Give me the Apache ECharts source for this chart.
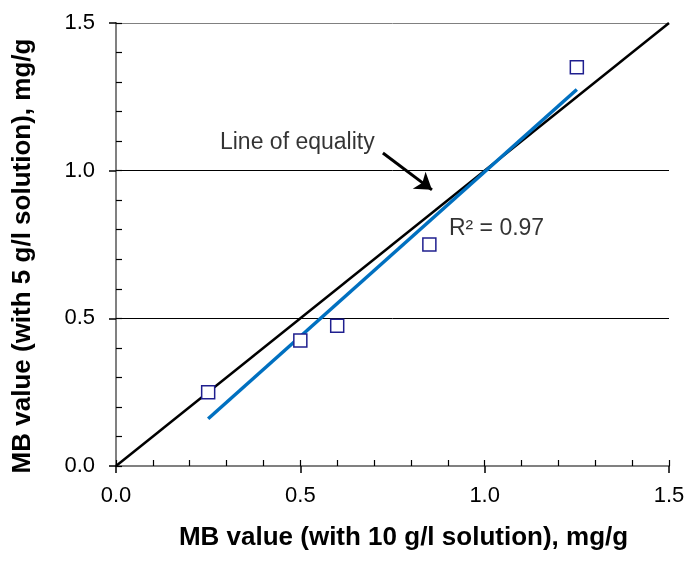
<!DOCTYPE html>
<html>
<head>
<meta charset="utf-8">
<script src="https://cdn.jsdelivr.net/npm/echarts@6/dist/echarts.min.js"></script>
<style>html,body{margin:0;padding:0;background:#fff;}#c{width:690px;height:561px;}</style>
</head>
<body>
<div id="c"></div>
<script>
// Measured points: MB value with 10 g/l (x) vs with 5 g/l (y)
var xValues = [0.25, 0.5, 0.6, 0.85, 1.25];
var yValues = [0.25, 0.425, 0.475, 0.75, 1.35];
// Linear trend line endpoints
var trendX = [0.25, 1.25];
var trendY = [0.16, 1.275];
// Line of equality
var equalityX = [0, 1.5];
var equalityY = [0, 1.5];
// Axis ticks
var tickLabels = ['0.0', '0.5', '1.0', '1.5'];
var axisMin = 0, axisMax = 1.5, majorStep = 0.5, minorStep = 0.1;
// Annotations
var equalityLabel = 'Line of equality';
var equalityLabelPos = [0.282, 1.094];
var arrowFrom = [0.724, 1.06];
var arrowTo = [0.857, 0.935];
var r2Label = 'R\u00B2 = 0.97';
var r2LabelPos = [0.903, 0.803];

var font = '"Liberation Sans", Arial, sans-serif';
function lbl(v) {
  var i = Math.round(v / majorStep);
  return tickLabels[i] !== undefined ? tickLabels[i] : '';
}
var chart = echarts.init(document.getElementById('c'), null, {renderer: 'canvas'});
var base = {type: 'value', min: axisMin, max: axisMax};
var option = {
  animation: false,
  backgroundColor: '#fff',
  grid: {left: 116, right: 21, top: 23, bottom: 95},
  xAxis: [
    Object.assign({}, base, {
      position: 'bottom', interval: majorStep,
      axisLine: {show: true, lineStyle: {color: '#000', width: 1.5}},
      axisTick: {show: true, inside: false, length: 7, lineStyle: {color: '#000', width: 1.5}},
      axisLabel: {formatter: lbl, fontSize: 22, color: '#000', fontFamily: font, margin: 19},
      splitLine: {show: false},
      name: 'MB value (with 10 g/l solution), mg/g',
      nameLocation: 'middle', nameGap: 59,
      nameTextStyle: {fontSize: 26, fontWeight: 'bold', color: '#000', fontFamily: font, padding: [0, 0, 0, 22]}
    }),
    Object.assign({}, base, {
      position: 'bottom', interval: minorStep,
      axisLine: {show: false},
      axisTick: {show: true, inside: true, length: 6, lineStyle: {color: '#000', width: 1.2}},
      axisLabel: {show: false}, splitLine: {show: false}
    }),
    Object.assign({}, base, {
      position: 'top', interval: majorStep,
      axisLine: {show: true, lineStyle: {color: '#808080', width: 2}},
      axisTick: {show: false}, axisLabel: {show: false}, splitLine: {show: false}
    })
  ],
  yAxis: [
    Object.assign({}, base, {
      position: 'left', interval: majorStep,
      axisLine: {show: true, lineStyle: {color: '#000', width: 1.5}},
      axisTick: {show: true, inside: false, length: 7, lineStyle: {color: '#000', width: 1.5}},
      axisLabel: {formatter: lbl, fontSize: 22, color: '#000', fontFamily: font, margin: 21},
      splitLine: {show: true, lineStyle: {color: ['#000', '#000', '#000', '#808080'], width: 1}},
      name: 'MB value (with 5 g/l solution), mg/g',
      nameLocation: 'middle', nameGap: 80, nameRotate: 90,
      nameTextStyle: {fontSize: 26, fontWeight: 'bold', color: '#000', fontFamily: font, padding: [0, 23, 0, 0]}
    }),
    Object.assign({}, base, {
      position: 'left', interval: minorStep,
      axisLine: {show: false},
      axisTick: {show: true, inside: true, length: 6, lineStyle: {color: '#000', width: 1.2}},
      axisLabel: {show: false}, splitLine: {show: false}
    }),
    Object.assign({}, base, {
      position: 'right', interval: majorStep,
      axisLine: {show: true, lineStyle: {color: '#808080', width: 2}},
      axisTick: {show: false}, axisLabel: {show: false}, splitLine: {show: false}
    })
  ],
  series: [
    {
      type: 'line', name: 'equality', xAxisIndex: 0, yAxisIndex: 0,
      data: equalityX.map(function (x, i) { return [x, equalityY[i]]; }),
      showSymbol: false, symbol: 'none',
      lineStyle: {color: '#000', width: 2.5}, z: 3,
      markLine: {
        silent: true, animation: false,
        symbol: ['none', 'arrow'], symbolSize: 16,
        label: {show: false},
        lineStyle: {color: '#000', width: 3, type: 'solid'},
        data: [[{coord: arrowFrom}, {coord: arrowTo}]]
      }
    },
    {
      type: 'line', name: 'trend', xAxisIndex: 0, yAxisIndex: 0,
      data: trendX.map(function (x, i) { return [x, trendY[i]]; }),
      showSymbol: false, symbol: 'none',
      lineStyle: {color: '#0070C0', width: 3.5}, z: 4
    },
    {
      type: 'scatter', name: 'data', xAxisIndex: 0, yAxisIndex: 0,
      data: xValues.map(function (x, i) { return [x, yValues[i]]; }),
      symbol: 'rect', symbolSize: 13,
      itemStyle: {color: '#fff', borderColor: '#1F1F8F', borderWidth: 1.5, opacity: 1}, z: 5
    },
    {
      type: 'scatter', name: 'labels', xAxisIndex: 0, yAxisIndex: 0,
      symbolSize: 0, silent: true, z: 6,
      data: [
        {value: equalityLabelPos, label: {formatter: equalityLabel}},
        {value: r2LabelPos, label: {formatter: r2Label}}
      ],
      label: {show: true, position: 'right', distance: 0, fontSize: 23, color: '#000', fontFamily: font}
    }
  ]
};
chart.setOption(option);
</script>
</body>
</html>
